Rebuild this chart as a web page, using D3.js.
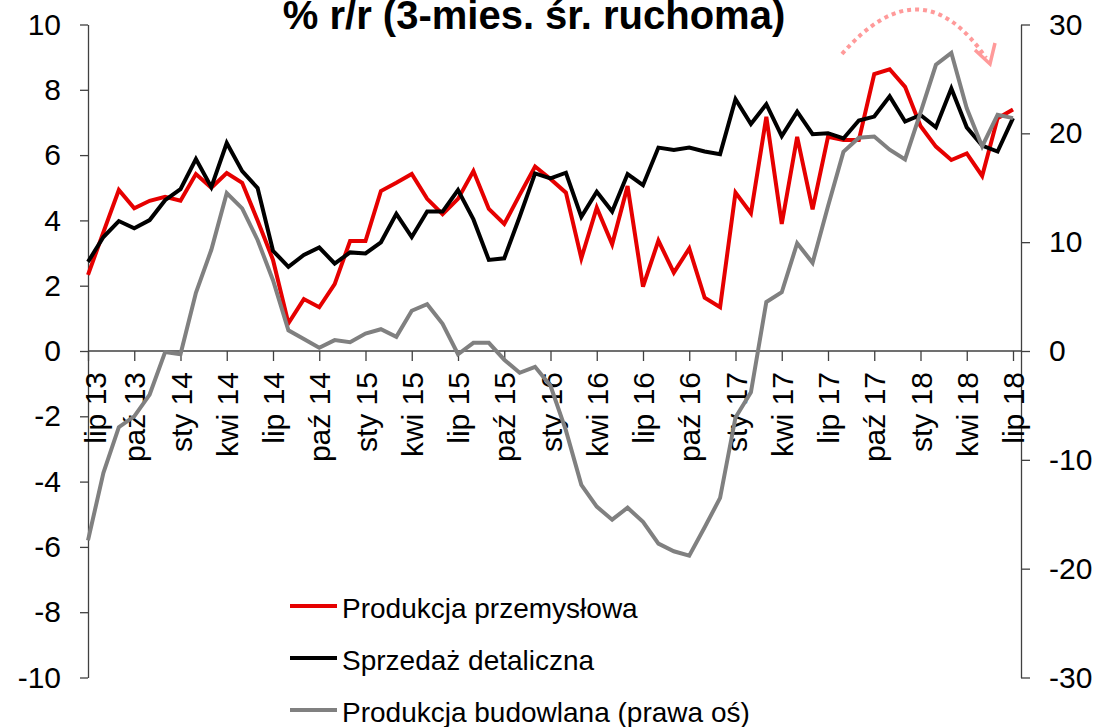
<!DOCTYPE html>
<html>
<head>
<meta charset="utf-8">
<script src="https://cdn.jsdelivr.net/npm/d3@7"></script>
<style>
  body { margin: 0; background: #fff; }
  text { font-family: Arial, "Liberation Sans", sans-serif; fill: #000; }
</style>
</head>
<body>
<div id="viz"></div>
<script>

// lip 13 .. lip 18, monthly
var tickLabels = ["lip 13","paź 13","sty 14","kwi 14","lip 14","paź 14","sty 15","kwi 15","lip 15","paź 15",
  "sty 16","kwi 16","lip 16","paź 16","sty 17","kwi 17","lip 17","paź 17","sty 18","kwi 18","lip 18"];

var przemyslowa = [2.33,3.64,4.93,4.37,4.6,4.72,4.6,5.42,5.0,5.45,5.15,4.0,2.79,0.85,1.59,1.34,2.05,3.37,3.37,4.9,
  5.15,5.42,4.66,4.19,4.66,5.51,4.35,3.89,4.78,5.65,5.27,4.85,2.84,4.39,3.27,5.05,1.97,3.38,2.4,3.14,
  1.63,1.34,4.85,4.22,7.17,3.89,6.56,4.34,6.56,6.46,6.46,8.48,8.63,8.09,6.89,6.26,5.85,6.05,5.36,7.13,7.4];

var detaliczna = [2.73,3.49,3.98,3.76,4.01,4.62,4.96,5.88,5.02,6.37,5.51,4.99,3.07,2.58,2.94,3.17,2.68,3.02,2.99,3.33,
  4.2,3.49,4.27,4.27,4.93,4.03,2.79,2.84,4.11,5.44,5.29,5.46,4.11,4.88,4.27,5.42,5.08,6.23,6.16,6.23,
  6.11,6.03,7.71,6.95,7.56,6.58,7.33,6.64,6.67,6.51,7.06,7.18,7.8,7.03,7.23,6.85,8.04,6.85,6.29,6.11,7.13];

var budowlana = [-17.4,-11.2,-7.0,-6.0,-4.0,-0.1,-0.3,5.35,9.3,14.5,13.1,10.2,6.5,1.9,1.1,0.3,1.0,0.8,1.6,2.0,
  1.3,3.7,4.3,2.5,-0.3,0.75,0.75,-0.8,-2.0,-1.45,-3.2,-7.3,-12.3,-14.3,-15.5,-14.4,-15.7,-17.7,-18.4,-18.8,
  -16.2,-13.5,-6.1,-3.8,4.5,5.4,9.9,8.1,13.3,18.3,19.6,19.7,18.5,17.6,21.9,26.3,27.4,22.3,18.8,21.7,21.4];

var legendNames = ["Produkcja przemysłowa","Sprzedaż detaliczna","Produkcja budowlana (prawa oś)"];
var colors = ["#e60000","#000000","#808080"];

var W = 1099, H = 727;

var svg = d3.select("#viz")
    .append("svg")
    .attr("width", W)
    .attr("height", H);

var x = d3.scaleLinear().domain([0, 60]).range([88, 1013]);
var yL = d3.scaleLinear().domain([-10, 10]).range([677.5, 24.5]);
var yR = d3.scaleLinear().domain([-30, 30]).range([677.5, 24.5]);

// plain hyphen for negatives, like the original
var fmt = function(d){ return String(d); };

// title
svg.append("text")
    .attr("x", 534)
    .attr("y", 29)
    .attr("text-anchor", "middle")
    .style("font-size", "40px")
    .style("font-weight", "bold")
    .text("% r/r (3-mies. śr. ruchoma)");

// left axis
var gL = svg.append("g")
    .attr("transform", "translate(88,0)")
    .call(d3.axisLeft(yL).tickValues(d3.range(-10, 11, 2)).tickFormat(fmt).tickSize(8).tickSizeOuter(0).tickPadding(19));

// right axis
var gR = svg.append("g")
    .attr("transform", "translate(1021,0)")
    .call(d3.axisRight(yR).tickValues(d3.range(-30, 31, 10)).tickFormat(fmt).tickSize(9).tickSizeOuter(0).tickPadding(19));

[gL, gR].forEach(function(g){
  g.selectAll("path, line").attr("stroke", "#404040").attr("stroke-width", 1.3);
  g.selectAll("text").style("font-size", "30px").attr("fill", "#000");
});

// x axis at zero
var gX = svg.append("g")
    .attr("transform", "translate(0," + yL(0) + ")")
    .call(d3.axisBottom(x).tickValues(d3.range(0, 61, 3)).tickSize(10).tickSizeOuter(0)
      .tickFormat(function(d, i){ return tickLabels[i]; }));

gX.select(".domain").remove();
gX.append("line")
    .attr("x1", x(0)).attr("x2", 1021)
    .attr("y1", 0).attr("y2", 0)
    .attr("stroke", "#404040").attr("stroke-width", 1.3);
gX.selectAll(".tick line").attr("stroke", "#404040").attr("stroke-width", 1.3);
gX.selectAll(".tick text")
    .style("font-size", "30px")
    .attr("fill", "#000")
    .attr("text-anchor", "end")
    .attr("y", 0)
    .attr("dy", "0.35em")
    .attr("transform", function(d, i){ return "translate(" + (i == 0 ? 7 : 0) + ",21) rotate(-90)"; });

// lines
var lineL = d3.line().x(function(d, i){ return x(i); }).y(function(d){ return yL(d); });
var lineR = d3.line().x(function(d, i){ return x(i); }).y(function(d){ return yR(d); });

svg.append("path").datum(przemyslowa)
    .attr("d", lineL).attr("fill", "none").attr("stroke", colors[0]).attr("stroke-width", 4);
svg.append("path").datum(detaliczna)
    .attr("d", lineL).attr("fill", "none").attr("stroke", colors[1]).attr("stroke-width", 4);
svg.append("path").datum(budowlana)
    .attr("d", lineR).attr("fill", "none").attr("stroke", colors[2]).attr("stroke-width", 4);

// dotted arrow annotation
svg.append("path")
    .attr("d", "M842,54 Q921,-37 986,58")
    .attr("fill", "none")
    .attr("stroke", "#ff9a9a")
    .attr("stroke-width", 4)
    .attr("stroke-dasharray", "4,4");
svg.append("path")
    .attr("d", "M975,50 L990,64 L995,43")
    .attr("fill", "none")
    .attr("stroke", "#ff9a9a")
    .attr("stroke-width", 3.5);

// legend
var leg = svg.selectAll("g.leg")
    .data(legendNames)
    .enter()
    .append("g")
    .attr("class", "leg")
    .attr("transform", function(d, i){ return "translate(290," + (606 + i * 52) + ")"; });

leg.append("line")
    .attr("x1", 0).attr("x2", 47)
    .attr("stroke", function(d, i){ return colors[i]; })
    .attr("stroke-width", 4);

leg.append("text")
    .attr("x", 52)
    .attr("y", 12)
    .style("font-size", "28px")
    .text(function(d){ return d; });

</script>
</body>
</html>
